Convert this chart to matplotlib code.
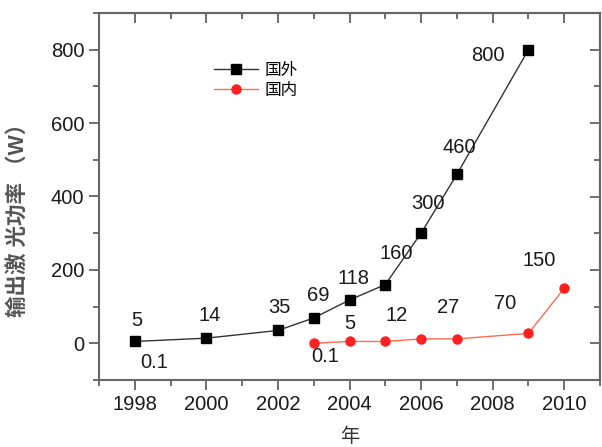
import matplotlib
matplotlib.use('Agg')
from matplotlib import pyplot as plt
from matplotlib.ticker import MultipleLocator, NullFormatter

plt.rcParams['font.family'] = ['Liberation Sans', 'Noto Sans CJK SC', 'DejaVu Sans']

# 国外 (foreign)
years_abroad = [1998, 2000, 2002, 2003, 2004, 2005, 2006, 2007, 2009]
power_abroad = [5, 14, 35, 69, 118, 160, 300, 460, 800]
labels_abroad = ['5', '0.1', '14', '35', '69', '118', '160', '300', '460', '800']

# 国内 (domestic)
years_home = [2003, 2004, 2005, 2006, 2007, 2009, 2010]
power_home = [0.1, 5, 5, 12, 12, 27, 150]
labels_home = ['0.1', '5', '12', '27', '70', '150']

# where each value label sits (data coords)
pos_abroad = [(1998.05, 63), (1998.55, -52), (2000.08, 76), (2002.03, 98), (2003.14, 131),
              (2004.11, 177), (2005.3, 245), (2006.19, 381), (2007.08, 533), (2007.86, 785)]
pos_home = [(2003.33, -35), (2004.0, 54), (2005.33, 76), (2006.75, 98), (2008.36, 109), (2009.31, 226)]

TXT = '#1a1a1a'
TICK = '#555555'

fig = plt.figure(figsize=(6.02, 4.47), dpi=100)
ax = fig.add_axes([99 / 602, 1 - 380 / 447, 501 / 602, 367 / 447])

ax.plot(years_abroad, power_abroad, color='#333333', lw=1.0, marker='s', ms=6.5,
        mfc='black', mec='black', label='国外')
ax.plot(years_home, power_home, color='#ff6a50', lw=1.0, marker='o', ms=6.5,
        mfc='#ff2020', mec='#ff2020', label='国内')

for txt, (x, y) in zip(labels_abroad, pos_abroad):
    ax.text(x, y, txt, ha='center', va='center', fontsize=14.5, color=TXT)
for txt, (x, y) in zip(labels_home, pos_home):
    ax.text(x, y, txt, ha='center', va='center', fontsize=14.5, color=TXT)

ax.set_xlim(1997, 2011)
ax.set_ylim(-100, 900)
ax.xaxis.set_major_locator(MultipleLocator(2))
ax.xaxis.set_minor_locator(MultipleLocator(1))
ax.yaxis.set_major_locator(MultipleLocator(200))
ax.yaxis.set_minor_locator(MultipleLocator(100))
ax.tick_params(which='both', direction='out', labelsize=14.5, labelcolor=TXT,
               color=TICK, width=1.2)
ax.tick_params(which='major', length=7)
ax.tick_params(which='minor', length=4)
for sp in ax.spines.values():
    sp.set_color('#666666')
    sp.set_linewidth(1.5)

# inward ticks on the top and right frame
top = ax.secondary_xaxis('top')
right = ax.secondary_yaxis('right')
for sec, axis in ((top, top.xaxis), (right, right.yaxis)):
    step = 2 if sec is top else 200
    axis.set_major_locator(MultipleLocator(step))
    axis.set_minor_locator(MultipleLocator(step / 2))
    axis.set_major_formatter(NullFormatter())
    sec.tick_params(which='both', direction='in', color=TICK, width=1.2)
    sec.tick_params(which='major', length=7)
    sec.tick_params(which='minor', length=4)
    for sp in sec.spines.values():
        sp.set_color('#666666')
        sp.set_linewidth(1.5)

ax.set_ylabel('输出激 光功率 （W）', fontsize=15.5, fontweight='bold', color='#555555')
ax.yaxis.set_label_coords(-0.14, 0.45)
ax.set_xlabel('年', fontsize=14, color='#333333', labelpad=10)

ax.legend(loc='upper left', bbox_to_anchor=(0.2, 0.905), frameon=False, fontsize=12,
          handlelength=2.6, handletextpad=0.4, labelspacing=0.3)

fig.savefig('out.png', dpi=100)
